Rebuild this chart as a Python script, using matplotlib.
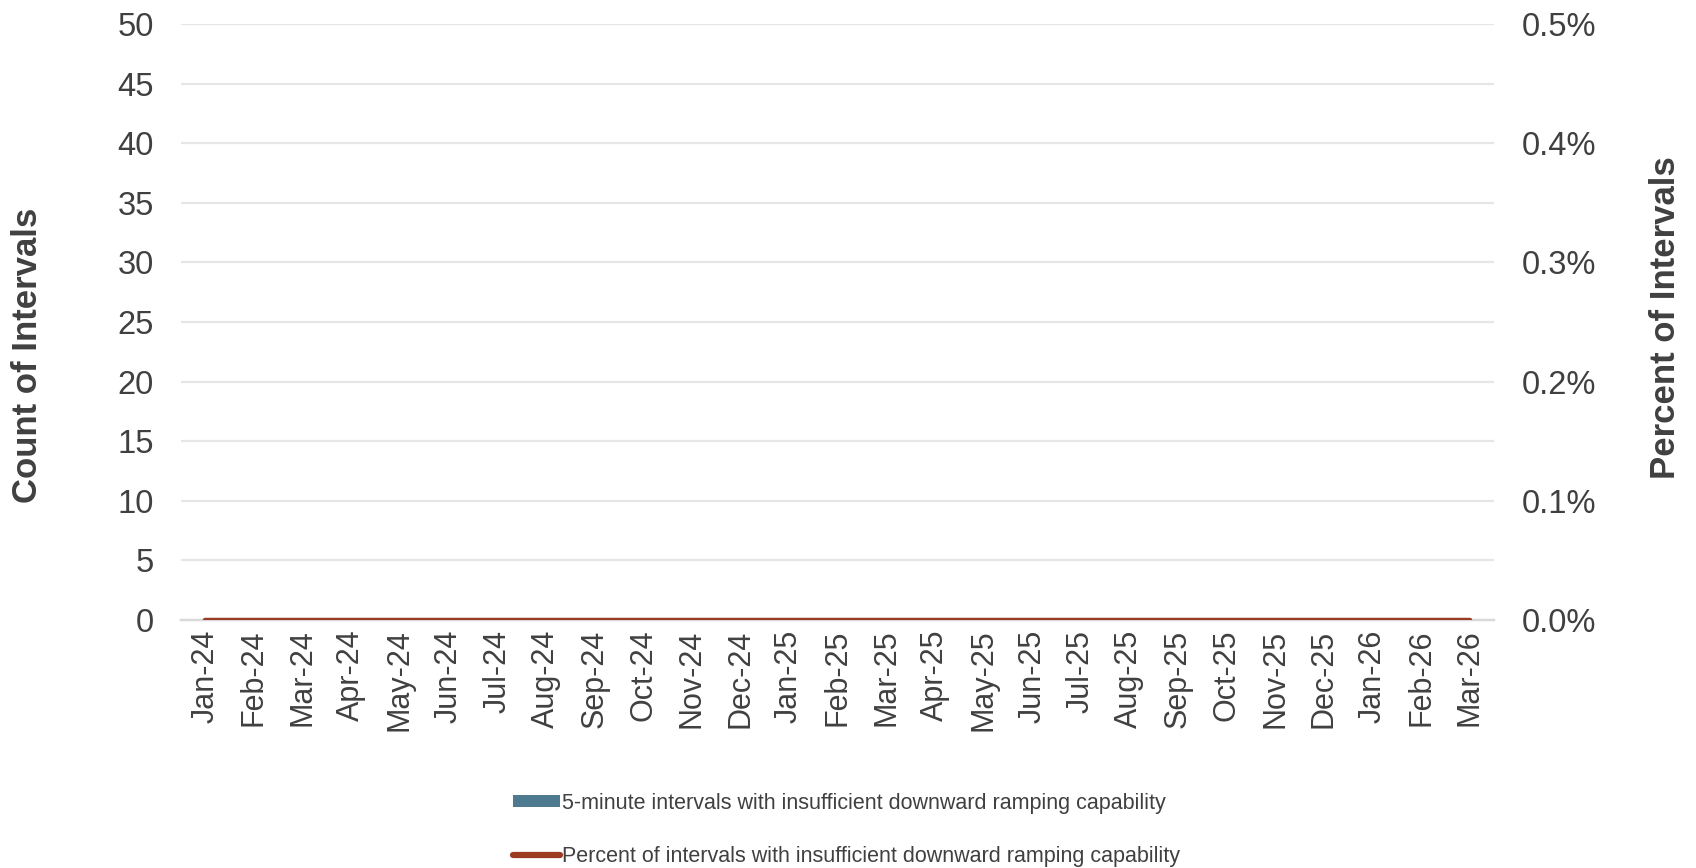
import matplotlib
matplotlib.use("Agg")
import matplotlib.pyplot as plt
from matplotlib.lines import Line2D
from matplotlib.patches import Patch
from matplotlib.ticker import FuncFormatter, MultipleLocator

months = [
    "Jan-24", "Feb-24", "Mar-24", "Apr-24", "May-24", "Jun-24", "Jul-24",
    "Aug-24", "Sep-24", "Oct-24", "Nov-24", "Dec-24", "Jan-25", "Feb-25",
    "Mar-25", "Apr-25", "May-25", "Jun-25", "Jul-25", "Aug-25", "Sep-25",
    "Oct-25", "Nov-25", "Dec-25", "Jan-26", "Feb-26", "Mar-26",
]
interval_counts = [0] * len(months)
interval_pcts = [0.0] * len(months)

bar_label = "5-minute intervals with insufficient downward ramping capability"
line_label = "Percent of intervals with insufficient downward ramping capability"

BAR_COLOR = "#4D7A8E"
LINE_COLOR = "#9C3A24"
TEXT_COLOR = "#404040"
GRID_COLOR = "#E6E6E6"

plt.rcParams["font.family"] = ["Liberation Sans", "DejaVu Sans"]

fig = plt.figure(figsize=(16.96, 8.68), dpi=100)
ax = fig.add_axes([0.1067, 0.2857, 0.881 - 0.1067, 0.9724 - 0.2857])
ax2 = ax.twinx()

x = list(range(len(months)))
ax.bar(x, interval_counts, width=0.6, color=BAR_COLOR, zorder=2)
ax2.plot(x, interval_pcts, color=LINE_COLOR, lw=3.2, solid_capstyle="round", zorder=3)

ax.set_xlim(-0.5, len(months) - 0.5)
ax.set_ylim(0, 50)
ax.yaxis.set_major_locator(MultipleLocator(5))
ax2.set_ylim(0, 0.5)
ax2.yaxis.set_major_locator(MultipleLocator(0.1))
ax2.yaxis.set_major_formatter(FuncFormatter(lambda v, _: f"{v:.1f}%"))

ax.grid(axis="y", color=GRID_COLOR, lw=1.6, zorder=0)
ax.set_axisbelow(True)
for a in (ax, ax2):
    for side in ("top", "right", "left"):
        a.spines[side].set_visible(False)
    a.spines["bottom"].set_color("#D9D9D9")
    a.spines["bottom"].set_linewidth(1.6)
    a.tick_params(length=0, colors=TEXT_COLOR)

ax.set_xticks(x)
ax.set_xticklabels(months, rotation=90, fontsize=22, color=TEXT_COLOR)
ax.tick_params(axis="x", pad=7)
ax.tick_params(axis="y", labelsize=23.5, pad=19.5)
ax2.tick_params(axis="y", labelsize=23.5, pad=20)

fig.text(0.016, 0.591, "Count of Intervals", rotation=90, ha="center", va="center",
         fontsize=25, fontweight="bold", color=TEXT_COLOR)
fig.text(0.982, 0.634, "Percent of Intervals", rotation=90, ha="center", va="center",
         fontsize=25, fontweight="bold", color=TEXT_COLOR)

handles = [
    Patch(facecolor=BAR_COLOR, edgecolor="none", label=bar_label),
    Line2D([0], [0], color=LINE_COLOR, lw=4.5, solid_capstyle="round", label=line_label),
]
fig.legend(
    handles=handles, loc="center", bbox_to_anchor=(0.499, 0.044),
    frameon=False, labelspacing=1.5, handlelength=2.2,
    handleheight=0.5, handletextpad=0.05, labelcolor=TEXT_COLOR,
    prop={"family": ["Liberation Sans", "DejaVu Sans"], "size": 15.5},
)

fig.savefig("out.png", dpi=100)
